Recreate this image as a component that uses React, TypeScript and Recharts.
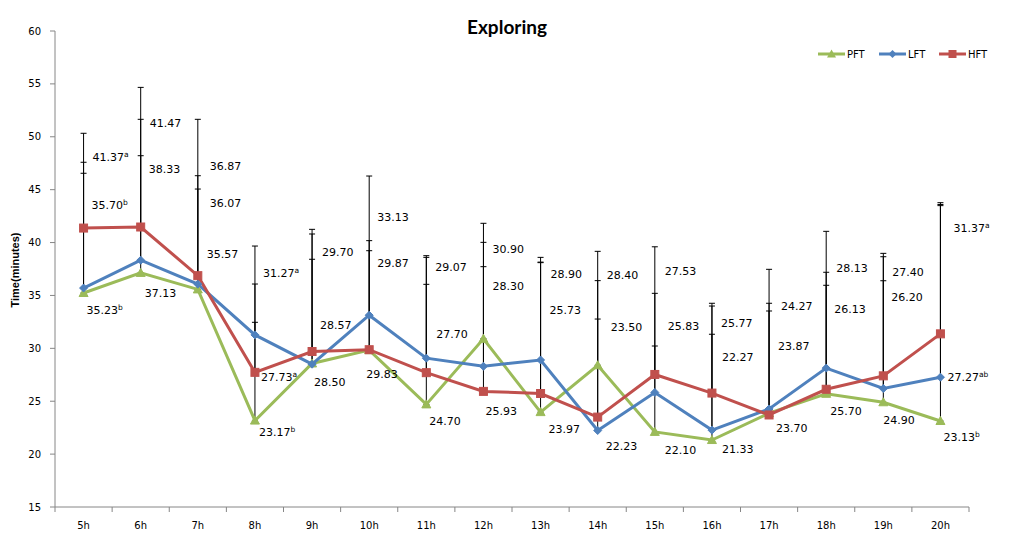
import React from 'react';
import { LineChart, Line, XAxis, YAxis, ErrorBar, LabelList } from 'recharts';

const hours = ['5h', '6h', '7h', '8h', '9h', '10h', '11h', '12h', '13h', '14h', '15h', '16h', '17h', '18h', '19h', '20h'];
const pftValues = [35.23, 37.13, 35.57, 23.17, 28.57, 29.83, 24.7, 30.9, 23.97, 28.4, 22.1, 21.33, 23.87, 25.7, 24.9, 23.13];
const lftValues = [35.7, 38.33, 36.07, 31.27, 28.5, 33.13, 29.07, 28.3, 28.9, 22.23, 25.83, 22.27, 24.27, 28.13, 26.2, 27.27];
const hftValues = [41.37, 41.47, 36.87, 27.73, 29.7, 29.87, 27.7, 25.93, 25.73, 23.5, 27.53, 25.77, 23.7, 26.13, 27.4, 31.37];
const pftErrors = [11.32, 11.08, 9.49, 9.29, 9.85, 9.4, 11.35, 6.82, 14.13, 4.37, 8.12, 10.0, 9.66, 10.26, 11.49, 20.47];
const lftErrors = [11.89, 13.32, 10.25, 4.81, 12.31, 7.05, 9.53, 11.72, 9.25, 14.17, 9.37, 11.73, 9.99, 9.06, 12.46, 16.22];
const hftErrors = [8.96, 13.2, 14.78, 11.94, 11.55, 16.42, 11.06, 15.89, 12.87, 15.67, 12.07, 8.49, 13.77, 14.93, 11.58, 12.4];
const pftMarks = ['b', '', '', 'b', '', '', '', '', '', '', '', '', '', '', '', 'b'];
const lftMarks = ['b', '', '', 'a', '', '', '', '', '', '', '', '', '', '', '', 'ab'];
const hftMarks = ['a', '', '', 'a', '', '', '', '', '', '', '', '', '', '', '', 'a'];
const yTicks = [15, 20, 25, 30, 35, 40, 45, 50, 55, 60];

// label placement (pixel offsets from each point)
const pftLabelOffsets = [[3, 17], [4, 20], [9, -35], [4, 11], [8, -38], [-3, 24], [3, 17], [9, -90], [8, 17], [9, -90], [10, 18], [10, 9], [9, -67], [4, 17], [0, 18], [3, 16]];
const lftLabelOffsets = [[8, -83], [8, -91], [12, -81], [8, -62], [2, 18], [8, -98], [9, -91], [9, -80], [10, -86], [8, 15], [13, -66], [10, -73], [12, -103], [10, -100], [8, -92], [7, 0]];
const hftLabelOffsets = [[9, -71], [9, -104], [12, -110], [6, 5], [10, -100], [8, -87], [10, -39], [2, 20], [9, -84], [13, -90], [10, -103], [9, -70], [7, 13], [8, -80], [9, -104], [13, -106]];

const WIDTH = 1015;
const HEIGHT = 549;
const MARGIN = { top: 31, right: 46, bottom: 0, left: 0 };
const YAXIS_W = 55;
const XAXIS_H = 42;
const BAND = (WIDTH - MARGIN.left - MARGIN.right - YAXIS_W) / hours.length;

const GREEN = '#9BBB59';
const BLUE = '#4F81BD';
const RED = '#C0504D';
const AXIS = '#868686';
const FONT = '"DejaVu Sans", Verdana, sans-serif';

const data = hours.map((h, i) => ({
  hour: h,
  PFT: pftValues[i],
  LFT: lftValues[i],
  HFT: hftValues[i],
  PFTerr: [0, pftErrors[i]],
  LFTerr: [0, lftErrors[i]],
  HFTerr: [0, hftErrors[i]],
}));

const triPath = (cx: number, cy: number) => `M${cx},${cy - 4.5} L${cx + 4.5},${cy + 3.5} L${cx - 4.5},${cy + 3.5} Z`;
const diaPath = (cx: number, cy: number) => `M${cx},${cy - 4} L${cx + 4},${cy} L${cx},${cy + 4} L${cx - 4},${cy} Z`;

const TriDot = (p: any) => {
  if (p.cx == null || p.cy == null) return <g key={`t${p.index}`} />;
  return <path key={`t${p.index}`} d={triPath(p.cx, p.cy)} fill={GREEN} stroke={GREEN} strokeWidth={1} />;
};
const DiaDot = (p: any) => {
  if (p.cx == null || p.cy == null) return <g key={`d${p.index}`} />;
  return <path key={`d${p.index}`} d={diaPath(p.cx, p.cy)} fill={BLUE} stroke={BLUE} strokeWidth={1} />;
};
const SqDot = (p: any) => {
  if (p.cx == null || p.cy == null) return <g key={`s${p.index}`} />;
  return <rect key={`s${p.index}`} x={p.cx - 4} y={p.cy - 4} width={8} height={8} fill={RED} stroke={RED} strokeWidth={1} />;
};

const makeLabel = (offsets: number[][], marks: string[]) => (props: any) => {
  const { index, value } = props;
  const x = props.x ?? props.viewBox?.x;
  const y = props.y ?? props.viewBox?.y;
  if (x == null || y == null || index == null) return null;
  const [dx, dy] = offsets[index];
  const mark = marks[index];
  return (
    <text key={`l${index}`} x={x + dx} y={y + dy + 4} fontFamily={FONT} fontSize={11} fill="#000">
      {Number(value).toFixed(2)}
      {mark ? (
        <tspan fontSize={7.5} dy={-4}>
          {mark}
        </tspan>
      ) : null}
    </text>
  );
};

const XTick = (props: any) => {
  const { x, y, payload, index } = props;
  const last = index === hours.length - 1;
  return (
    <g>
      <line x1={x - BAND / 2} y1={y} x2={x - BAND / 2} y2={y + 5} stroke={AXIS} />
      {last ? <line x1={x + BAND / 2} y1={y} x2={x + BAND / 2} y2={y + 5} stroke={AXIS} /> : null}
      <text x={x} y={y + 22} textAnchor="middle" fontFamily={FONT} fontSize={10} fill="#000">
        {payload.value}
      </text>
    </g>
  );
};

const legendItems = [
  { name: 'PFT', color: GREEN, shape: 'tri', x: 818 },
  { name: 'LFT', color: BLUE, shape: 'dia', x: 879 },
  { name: 'HFT', color: RED, shape: 'sq', x: 939 },
];

export default function App() {
  return (
    <div style={{ position: 'absolute', left: 0, top: 0, width: WIDTH, height: HEIGHT, background: '#fff' }}>
      <LineChart width={WIDTH} height={HEIGHT} data={data} margin={MARGIN}>
        <XAxis
          dataKey="hour"
          height={XAXIS_H}
          stroke={AXIS}
          tickLine={false}
          tickSize={0}
          tickMargin={0}
          tick={<XTick />}
          interval={0}
          padding={{ left: BAND / 2, right: BAND / 2 }}
        />
        <YAxis
          domain={[15, 60]}
          ticks={yTicks}
          width={YAXIS_W}
          stroke={AXIS}
          tickSize={5}
          tickMargin={9}
          tick={{ fill: '#000', fontSize: 10, fontFamily: FONT }}
          allowDataOverflow
        />
        <Line dataKey="PFT" stroke={GREEN} strokeWidth={3} dot={TriDot} activeDot={false} isAnimationActive={false}>
          <ErrorBar dataKey="PFTerr" direction="y" width={3} stroke="#000" strokeWidth={1} isAnimationActive={false} />
          <LabelList dataKey="PFT" content={makeLabel(pftLabelOffsets, pftMarks)} />
        </Line>
        <Line dataKey="LFT" stroke={BLUE} strokeWidth={3} dot={DiaDot} activeDot={false} isAnimationActive={false}>
          <ErrorBar dataKey="LFTerr" direction="y" width={3} stroke="#000" strokeWidth={1} isAnimationActive={false} />
          <LabelList dataKey="LFT" content={makeLabel(lftLabelOffsets, lftMarks)} />
        </Line>
        <Line dataKey="HFT" stroke={RED} strokeWidth={3} dot={SqDot} activeDot={false} isAnimationActive={false}>
          <ErrorBar dataKey="HFTerr" direction="y" width={3} stroke="#000" strokeWidth={1} isAnimationActive={false} />
          <LabelList dataKey="HFT" content={makeLabel(hftLabelOffsets, hftMarks)} />
        </Line>
      </LineChart>
      <svg width={WIDTH} height={HEIGHT} style={{ position: 'absolute', left: 0, top: 0, pointerEvents: 'none' }}>
        <text x={507} y={34} textAnchor="middle" fontFamily="Lato, sans-serif" fontWeight="bold" fontSize={19} fill="#000">
          Exploring
        </text>
        <text
          x={0}
          y={0}
          transform="translate(19,270) rotate(-90)"
          textAnchor="middle"
          fontFamily='"Liberation Sans", Arial, sans-serif'
          fontWeight="bold"
          fontSize={11}
          fill="#000"
        >
          Time(minutes)
        </text>
        {legendItems.map((it) => {
          const cy = 54;
          const mx = it.x + 13.5;
          return (
            <g key={it.name}>
              <line x1={it.x} y1={cy} x2={it.x + 27} y2={cy} stroke={it.color} strokeWidth={3} />
              {it.shape === 'tri' ? <path d={triPath(mx, cy)} fill={it.color} /> : null}
              {it.shape === 'dia' ? <path d={diaPath(mx, cy)} fill={it.color} /> : null}
              {it.shape === 'sq' ? <rect x={mx - 4} y={cy - 4} width={8} height={8} fill={it.color} /> : null}
              <text x={it.x + 29} y={cy + 4} fontFamily={FONT} fontSize={10} fill="#000">
                {it.name}
              </text>
            </g>
          );
        })}
      </svg>
    </div>
  );
}
